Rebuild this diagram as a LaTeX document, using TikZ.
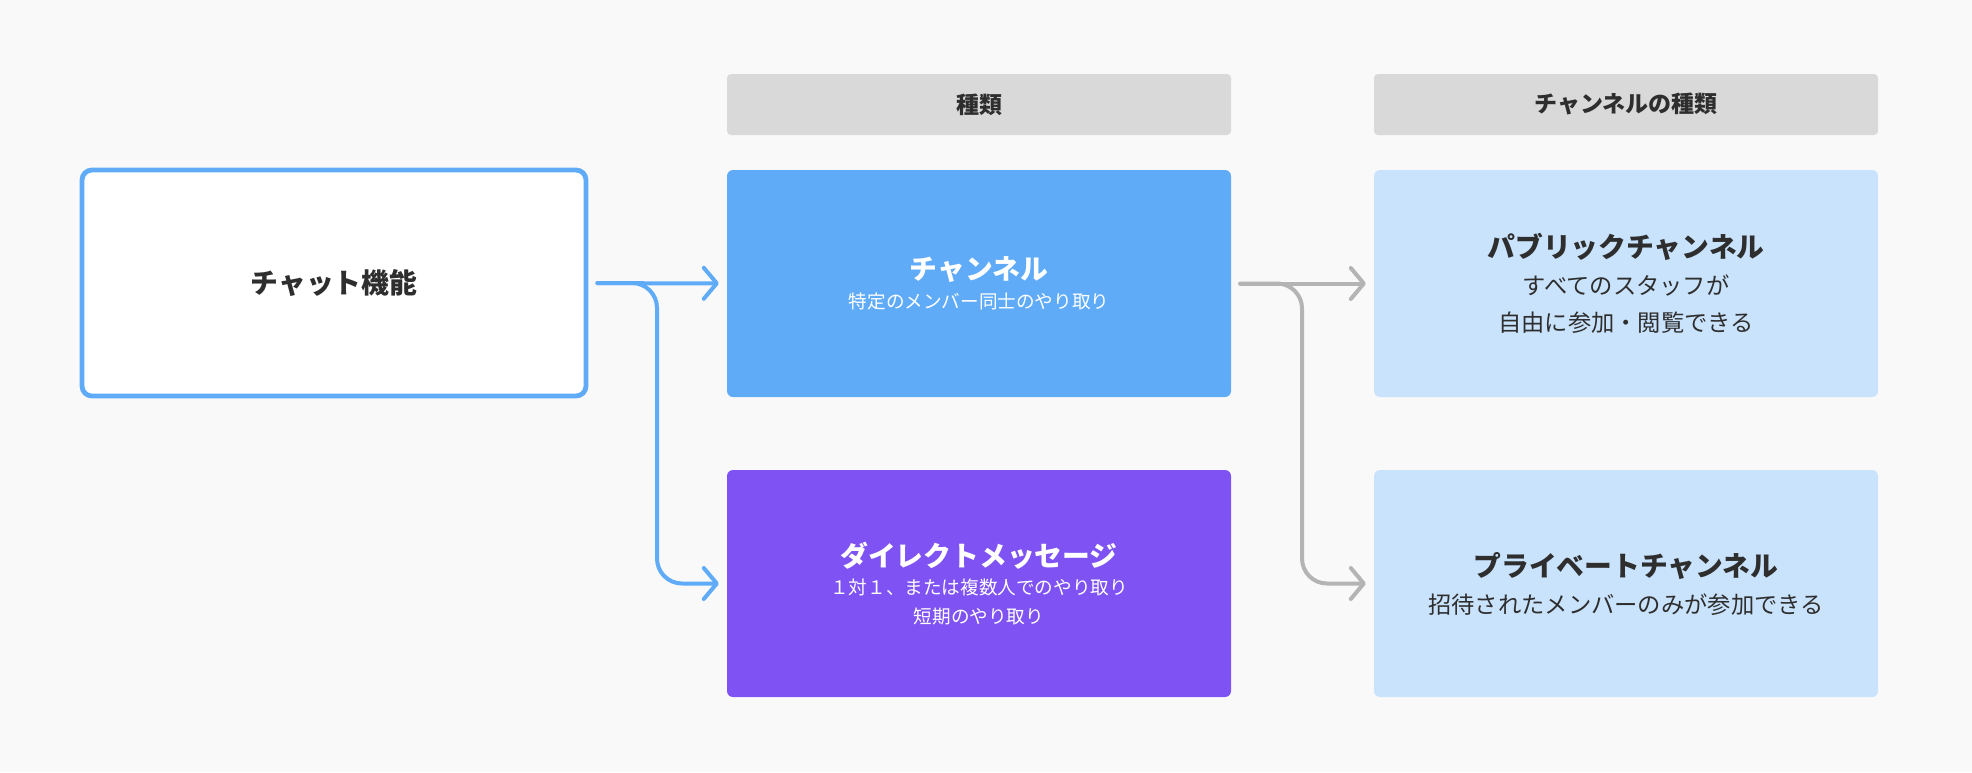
\documentclass[tikz,border=0pt]{standalone}
\usepackage{fontspec}
\setmainfont{Noto Sans CJK JP}
\usetikzlibrary{arrows.meta}

\definecolor{paper}{HTML}{F9F9F9}
\definecolor{ink}{HTML}{2E2E2E}
\definecolor{chatblue}{HTML}{60ABF8}
\definecolor{dmviolet}{HTML}{7F53F3}
\definecolor{paleblue}{HTML}{CAE3FC}
\definecolor{headgray}{HTML}{D9D9D9}
\definecolor{flowgray}{HTML}{B4B4B4}

\newcommand{\cardtitle}{\bfseries\fontsize{27.8}{33}\selectfont}
\newcommand{\headtext}{\bfseries\fontsize{23}{28}\selectfont}
\newcommand{\subsmall}{\fontsize{18.6}{28.5}\selectfont}
\newcommand{\sublarge}{\fontsize{23.3}{37}\selectfont}

\begin{document}
\begin{tikzpicture}[x=1pt,y=-1pt,>={Straight Barb[length=13pt,width=31pt,round]}]
    \tikzstyle{card}=[rounded corners=6pt, minimum width=504pt, minimum height=227pt, align=center, inner sep=0pt, font=\subsmall, text=white]
    \tikzstyle{palecard}=[card, fill=paleblue, font=\sublarge, text=ink]
    \tikzstyle{head}=[fill=headgray, rounded corners=4pt, minimum width=504pt, minimum height=61pt, inner sep=0pt, font=\headtext, text=ink]
    \tikzstyle{flow}=[->, line width=4pt, line cap=round, rounded corners=25pt, shorten <=9pt, shorten >=8pt]

    \useasboundingbox (0,0) rectangle (1972,772);
    \fill[paper] (0,0) rectangle (1972,772);

    \node[draw=chatblue, line width=4.8pt, fill=white, rounded corners=10pt, minimum width=504pt, minimum height=226pt, font=\cardtitle, text=ink] (chat) at (334,283) {チャット機能};

    \node[head] (kinds) at (979,104.5) {種類};
    \node[head] (chkinds) at (1626,104.5) {チャンネルの種類};

    \node[card, fill=chatblue] (channel) at (979,283.5)
    {{\cardtitle チャンネル}\\特定のメンバー同士のやり取り};

    \node[card, fill=dmviolet] (dm) at (979,583.5)
    {{\cardtitle ダイレクトメッセージ}\\１対１、または複数人でのやり取り\\短期のやり取り};

    \node[palecard] (public) at (1626,283.5)
    {{\cardtitle パブリックチャンネル}\\すべてのスタッフが\\自由に参加・閲覧できる};

    \node[palecard] (private) at (1626,583.5)
    {{\cardtitle プライベートチャンネル}\\招待されたメンバーのみが参加できる};

    % split points halfway between the columns
    \coordinate (split1) at (657,283);
    \coordinate (split2) at (1302,283.5);

    \draw[flow, chatblue] (chat) -- (channel);
    \draw[flow, chatblue] (chat.east) -- (split1) |- (dm.west);
    \draw[flow, flowgray] (channel) -- (public);
    \draw[flow, flowgray] (channel.east) -- (split2) |- (private.west);
  \end{tikzpicture}
\end{document}
